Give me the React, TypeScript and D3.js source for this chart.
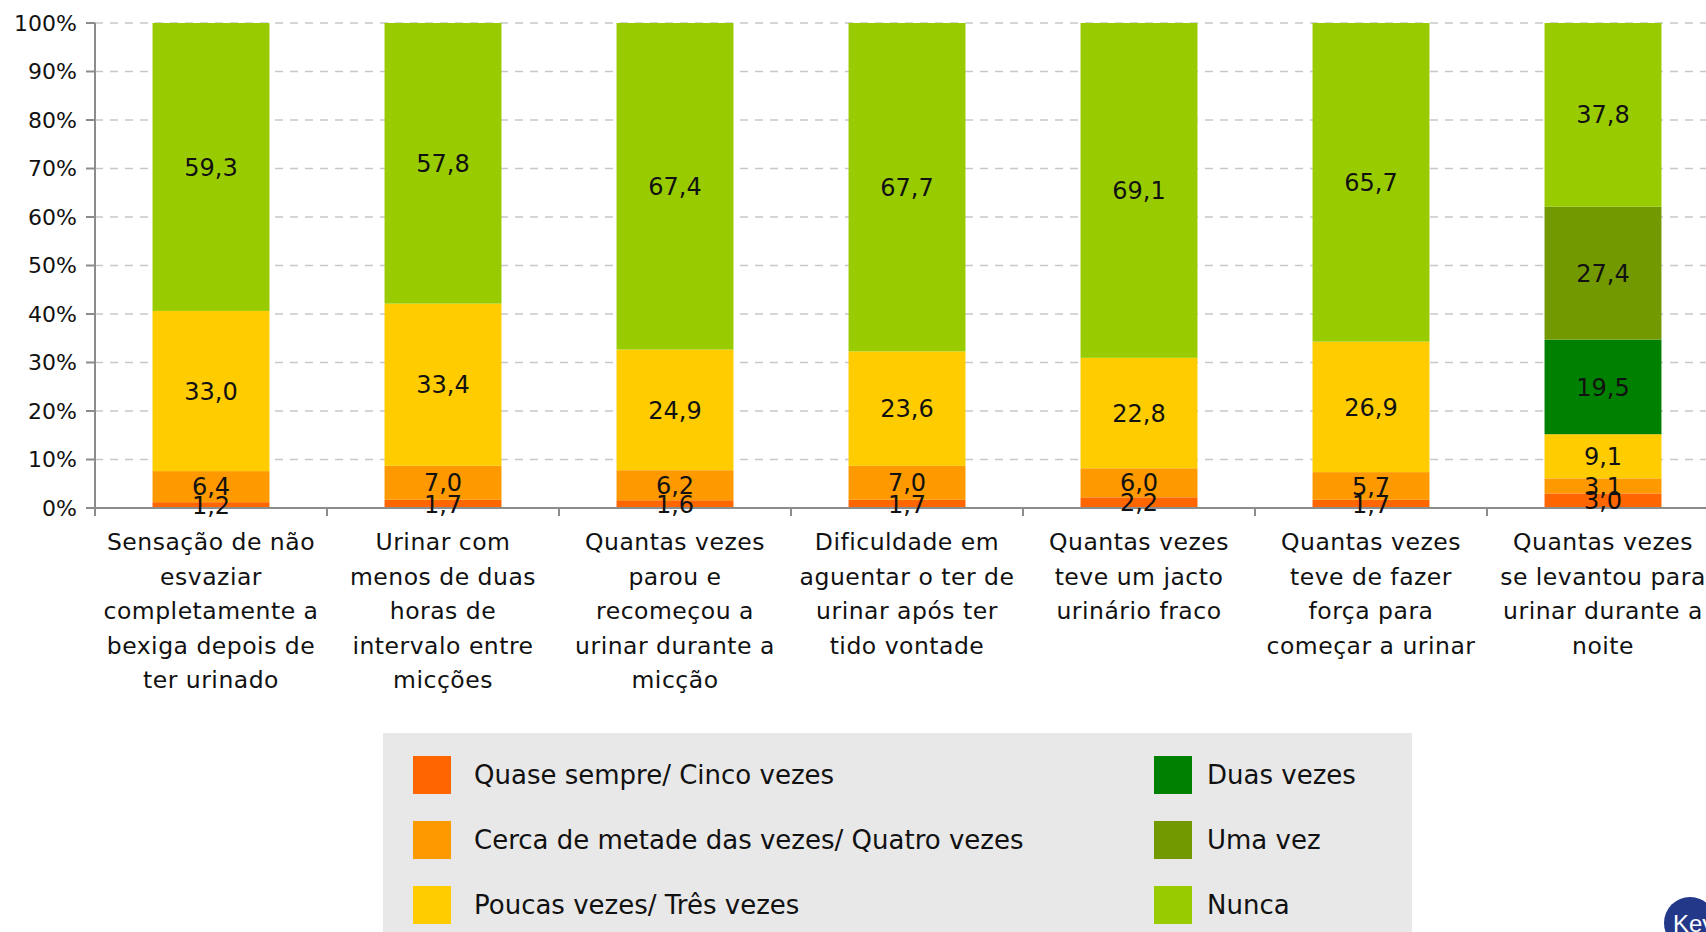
import React, { useEffect, useRef } from 'react';
import * as d3 from 'd3';

const categories = [
  ['Sensação de não', 'esvaziar', 'completamente a', 'bexiga depois de', 'ter urinado'],
  ['Urinar com', 'menos de duas', 'horas de', 'intervalo entre', 'micções'],
  ['Quantas vezes', 'parou e', 'recomeçou a', 'urinar durante a', 'micção'],
  ['Dificuldade em', 'aguentar o ter de', 'urinar após ter', 'tido vontade'],
  ['Quantas vezes', 'teve um jacto', 'urinário fraco'],
  ['Quantas vezes', 'teve de fazer', 'força para', 'começar a urinar'],
  ['Quantas vezes', 'se levantou para', 'urinar durante a', 'noite'],
];

const seriesNames = [
  'Quase sempre/ Cinco vezes',
  'Cerca de metade das vezes/ Quatro vezes',
  'Poucas vezes/ Três vezes',
  'Duas vezes',
  'Uma vez',
  'Nunca',
];
const seriesColors = ['#ff6600', '#ff9900', '#ffcc00', '#008000', '#739900', '#99cc00'];

const quaseSempre = [1.2, 1.7, 1.6, 1.7, 2.2, 1.7, 3.0];
const cercaMetade = [6.4, 7.0, 6.2, 7.0, 6.0, 5.7, 3.1];
const poucasVezes = [33.0, 33.4, 24.9, 23.6, 22.8, 26.9, 9.1];
const duasVezes = [0, 0, 0, 0, 0, 0, 19.5];
const umaVez = [0, 0, 0, 0, 0, 0, 27.4];
const nunca = [59.3, 57.8, 67.4, 67.7, 69.1, 65.7, 37.8];

const yTicks = [0, 10, 20, 30, 40, 50, 60, 70, 80, 90, 100];

const W = 1706;
const H = 932;
const font = '"DejaVu Sans", sans-serif';

const App = () => {
  const svgRef = useRef<SVGSVGElement | null>(null);

  useEffect(() => {
    const svg = d3.select(svgRef.current);
    svg.selectAll('*').remove();

    const values = [quaseSempre, cercaMetade, poucasVezes, duasVezes, umaVez, nunca];
    const rows = categories.map((c, i) => {
      const r: any = { idx: i };
      seriesNames.forEach((s, k) => (r[s] = values[k][i]));
      return r;
    });

    const left = 95;
    const step = 232;
    const x = d3
      .scaleBand<number>()
      .domain(categories.map((_, i) => i))
      .range([left, left + step * categories.length])
      .paddingInner(0.496)
      .paddingOuter(0.248);
    const y = d3.scaleLinear().domain([0, 1]).range([508, 23]);
    const yPct = (v: number) => y(v / 100);

    const stacked = d3.stack<any>().keys(seriesNames).offset(d3.stackOffsetExpand)(rows);

    // grid
    svg
      .append('g')
      .selectAll('line')
      .data(yTicks.filter((t) => t > 0))
      .join('line')
      .attr('x1', left)
      .attr('x2', W)
      .attr('y1', (d) => yPct(d))
      .attr('y2', (d) => yPct(d))
      .attr('stroke', '#c8c8c8')
      .attr('stroke-width', 1.5)
      .attr('stroke-dasharray', '8,7');

    // bars
    const layers = svg
      .append('g')
      .selectAll('g')
      .data(stacked)
      .join('g')
      .attr('fill', (_, i) => seriesColors[i]);
    layers
      .selectAll('rect')
      .data((d) => d.map((p) => ({ p, idx: p.data.idx })))
      .join('rect')
      .attr('x', (d) => x(d.idx)!)
      .attr('width', x.bandwidth())
      .attr('y', (d) => y(d.p[1]))
      .attr('height', (d) => y(d.p[0]) - y(d.p[1]));

    // axes
    const ax = svg.append('g').attr('stroke', '#8c8c8c').attr('stroke-width', 2);
    ax.append('line').attr('x1', left).attr('x2', left).attr('y1', y(1)).attr('y2', 516);
    ax.append('line').attr('x1', left).attr('x2', W).attr('y1', y(0)).attr('y2', y(0));
    ax
      .selectAll('.yt')
      .data(yTicks)
      .join('line')
      .attr('x1', 86)
      .attr('x2', left)
      .attr('y1', (d) => yPct(d))
      .attr('y2', (d) => yPct(d));
    ax
      .selectAll('.xt')
      .data(d3.range(1, categories.length + 1))
      .join('line')
      .attr('x1', (i) => left + i * x.step())
      .attr('x2', (i) => left + i * x.step())
      .attr('y1', y(0))
      .attr('y2', 516);

    svg
      .append('g')
      .selectAll('text')
      .data(yTicks)
      .join('text')
      .attr('x', 77)
      .attr('y', (d) => yPct(d))
      .attr('dy', '0.36em')
      .attr('text-anchor', 'end')
      .attr('font-family', font)
      .attr('font-size', 22)
      .attr('fill', '#111')
      .text((d) => `${d}%`);

    // category labels
    const cl = svg
      .append('g')
      .selectAll('text')
      .data(categories)
      .join('text')
      .attr('text-anchor', 'middle')
      .attr('font-family', font)
      .attr('font-size', 23.5)
      .attr('letter-spacing', 0.5)
      .attr('fill', '#111');
    cl.selectAll('tspan')
      .data((d, i) => d.map((line) => ({ line, i })))
      .join('tspan')
      .attr('x', (d) => x(d.i)! + x.bandwidth() / 2)
      .attr('y', (_, j) => 550 + j * 34.5)
      .text((d) => d.line);

    // data labels
    const lab = svg.append('g');
    stacked.forEach((layer) => {
      layer.forEach((p) => {
        const v = (p.data as any)[layer.key];
        if (!v) return;
        lab
          .append('text')
          .attr('x', x(p.data.idx)! + x.bandwidth() / 2)
          .attr('y', (y(p[0]) + y(p[1])) / 2)
          .attr('dy', '0.36em')
          .attr('text-anchor', 'middle')
          .attr('font-family', font)
          .attr('font-size', 24)
          .attr('fill', '#111')
          .text(d3.format('.1f')(v).replace('.', ','));
      });
    });

    // legend
    const lg = svg.append('g');
    lg.append('rect').attr('x', 383).attr('y', 733).attr('width', 1029).attr('height', 210).attr('fill', '#e8e8e8');
    const items = lg
      .selectAll('g')
      .data(seriesNames)
      .join('g')
      .attr('transform', (_, i) => `translate(${i < 3 ? 413 : 1154},${756 + (i % 3) * 65})`);
    items
      .append('rect')
      .attr('width', 38)
      .attr('height', 38)
      .attr('fill', (_, i) => seriesColors[i]);
    items
      .append('text')
      .attr('x', (_, i) => (i < 3 ? 61 : 53))
      .attr('y', 19)
      .attr('dy', '0.36em')
      .attr('font-family', font)
      .attr('font-size', 26)
      .attr('fill', '#111')
      .text((d) => d);

    // logo
    const logo = svg.append('g').attr('transform', 'translate(1690,923)');
    logo.append('circle').attr('r', 26).attr('fill', '#24388a');
    logo
      .append('text')
      .attr('x', -17)
      .attr('y', 9)
      .attr('font-family', '"Liberation Sans", Arial, sans-serif')
      .attr('font-size', 24)
      .attr('fill', '#fff')
      .text('Key');
  }, []);

  return (
    <svg
      ref={svgRef}
      width={W}
      height={H}
      style={{ position: 'absolute', left: 0, top: 0, display: 'block', background: '#fff' }}
    />
  );
};

export default App;
